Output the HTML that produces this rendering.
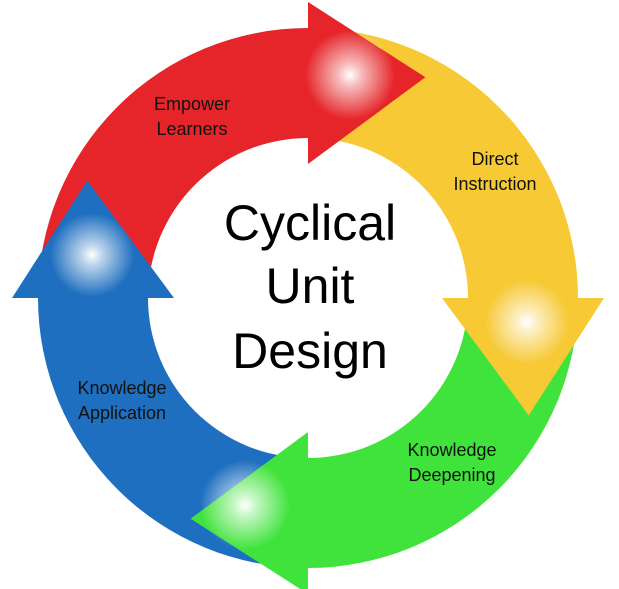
<!DOCTYPE html>
<html><head><meta charset="utf-8"><style>
html,body{margin:0;padding:0;background:#fff;}
svg{display:block;}
text{font-family:"Liberation Sans",sans-serif;}
</style></head><body>
<svg id="d" width="619" height="589" viewBox="0 0 619 589">
<defs>
<radialGradient id="glow"><stop offset="0" stop-color="#fff" stop-opacity="1"/><stop offset="0.25" stop-color="#fff" stop-opacity="0.7"/><stop offset="1" stop-color="#fff" stop-opacity="0"/></radialGradient>
</defs>
<g id="bands"></g>
<g>
<circle cx="350" cy="75" r="45" fill="url(#glow)"/>
<circle cx="527" cy="322" r="42" fill="url(#glow)"/>
<circle cx="245" cy="505" r="45" fill="url(#glow)"/>
<circle cx="92" cy="255" r="42" fill="url(#glow)"/>
</g>
<g font-size="50" text-anchor="middle" fill="#000">
<text x="310" y="240">Cyclical</text>
<text x="310" y="303">Unit</text>
<text x="310" y="368">Design</text>
</g>
<g font-size="18" fill="#111" text-anchor="middle">
<g><text x="192" y="110">Empower</text><text x="192" y="135">Learners</text></g>
<g><text x="495" y="165">Direct</text><text x="495" y="190">Instruction</text></g>
<g><text x="452" y="456">Knowledge</text><text x="452" y="481">Deepening</text></g>
<g><text x="122" y="394">Knowledge</text><text x="122" y="419">Application</text></g>
</g>
</svg>
<script>
const cx=308, cy=298, R=270, r=160, ext=26;
const segNames=['empower-learners-arrow','direct-instruction-arrow','knowledge-deepening-arrow','knowledge-application-arrow'];
const segColors=['#e52529','#f6c935','#40e33c','#1e6fbf'];
const segStart=[180,90,0,-90];
const g=document.getElementById('bands');
function pt(a,rad){const t=a*Math.PI/180;return [cx+rad*Math.cos(t), cy-rad*Math.sin(t)];}
function addPath(d,fill,name){
  const p=document.createElementNS('http://www.w3.org/2000/svg','path');
  p.setAttribute('d',d);p.setAttribute('fill',fill);
  
  
  g.appendChild(p);
}
for(let i=0;i<4;i++){
  const a0=segStart[i], a1=a0-90;
  const o0=pt(a0,R), o1=pt(a1,R), i1=pt(a1,r), i0=pt(a0,r);
  const d=`M${o0} A${R},${R} 0 0 1 ${o1} L${i1} A${r},${r} 0 0 0 ${i0} Z`;
  addPath(d,segColors[i],segNames[i]+'-band');
}
for(let i=0;i<4;i++){
  const a=segStart[i]-90;
  const ob=pt(a,R+ext), ib=pt(a,r-ext);
  const tip=pt(a-28,250);
  const d=`M${ob} L${tip} L${ib} Z`;
  addPath(d,segColors[i],segNames[i]+'-head');
}
</script>
</body></html>
